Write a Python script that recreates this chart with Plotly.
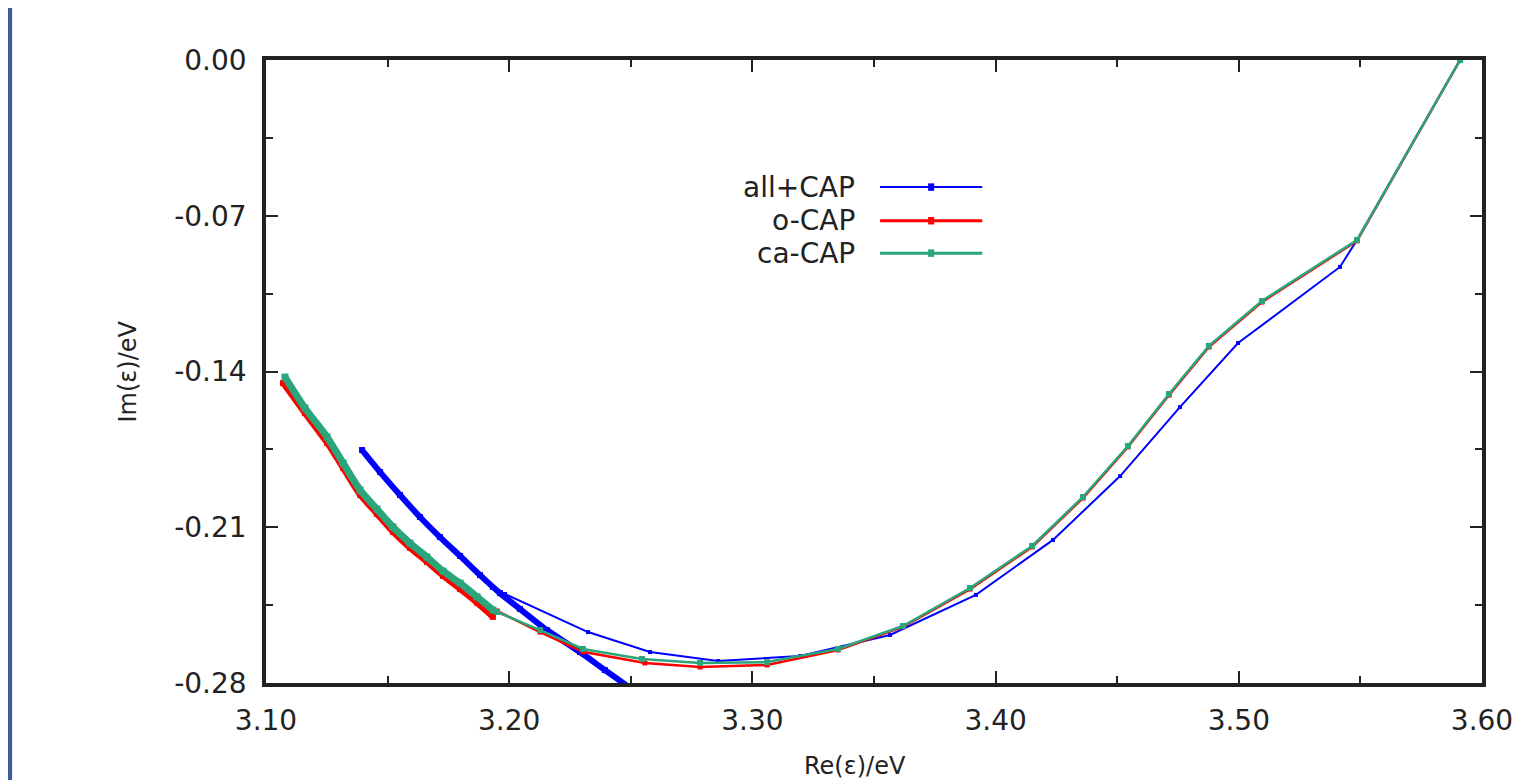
import plotly.graph_objects as go

# ---------------- data ----------------
series_names = ["all+CAP", "o-CAP", "ca-CAP"]

# all+CAP : densely sampled branch and sparse branch
blue_dense_x = [3.1395, 3.1469, 3.1551, 3.1633, 3.1715, 3.1798, 3.1880, 3.1962,
                3.2044, 3.2155, 3.2291, 3.2394, 3.2497]
blue_dense_y = [-0.1753, -0.1852, -0.1955, -0.2054, -0.2144, -0.2229, -0.2315, -0.2396,
                -0.2467, -0.2562, -0.2661, -0.2742, -0.2822]
blue_sparse_x = [3.1929, 3.1983, 3.2324, 3.2579, 3.2859, 3.3196, 3.3566, 3.3919,
                 3.4236, 3.4512, 3.4758, 3.4997, 3.5416, 3.5486, 3.5910]
blue_sparse_y = [-0.2373, -0.2400, -0.2571, -0.2661, -0.2701, -0.2679, -0.2584, -0.2404,
                 -0.2157, -0.1870, -0.1560, -0.1272, -0.0930, -0.0809, 0.0000]

# o-CAP
red_dense_x = [3.1070, 3.1160, 3.1251, 3.1317, 3.1387, 3.1456, 3.1522, 3.1592,
               3.1662, 3.1728, 3.1798, 3.1868, 3.1933]
red_dense_y = [-0.1452, -0.1587, -0.1721, -0.1834, -0.1955, -0.2040, -0.2121, -0.2193,
               -0.2256, -0.2319, -0.2378, -0.2440, -0.2503]
red_sparse_x = [3.1950, 3.2127, 3.2303, 3.2558, 3.2785, 3.3060, 3.3352, 3.3619,
                3.3895, 3.4150, 3.4359, 3.4544, 3.4713, 3.4877, 3.5095, 3.5486, 3.5910]
red_sparse_y = [-0.2476, -0.2571, -0.2660, -0.2710, -0.2728, -0.2719, -0.2652, -0.2548,
                -0.2378, -0.2189, -0.1969, -0.1739, -0.1506, -0.1290, -0.1088, -0.0813, 0.0000]

# ca-CAP
green_dense_x = [3.1078, 3.1160, 3.1251, 3.1317, 3.1387, 3.1456, 3.1522, 3.1592,
                 3.1662, 3.1728, 3.1798, 3.1868, 3.1933]
green_dense_y = [-0.1425, -0.1564, -0.1694, -0.1811, -0.1933, -0.2018, -0.2099, -0.2171,
                 -0.2234, -0.2297, -0.2351, -0.2413, -0.2472]
green_sparse_x = [3.1950, 3.2127, 3.2303, 3.2546, 3.2785, 3.3060, 3.3352, 3.3619,
                  3.3895, 3.4150, 3.4359, 3.4544, 3.4713, 3.4877, 3.5095, 3.5486, 3.5910]
green_sparse_y = [-0.2481, -0.2562, -0.2647, -0.2692, -0.2710, -0.2706, -0.2647, -0.2544,
                  -0.2373, -0.2184, -0.1964, -0.1735, -0.1501, -0.1285, -0.1083, -0.0809, 0.0000]

x_tickvals = [3.10, 3.20, 3.30, 3.40, 3.50, 3.60]
x_ticktext = ["3.10", "3.20", "3.30", "3.40", "3.50", "3.60"]
y_tickvals = [0.00, -0.07, -0.14, -0.21, -0.28]
y_ticktext = ["0.00", "-0.07", "-0.14", "-0.21", "-0.28"]
x_minorvals = [3.15, 3.25, 3.35, 3.45, 3.55]
y_minorvals = [-0.035, -0.105, -0.175, -0.245]

x_title = "Re(ε)/eV"
y_title = "Im(ε)/eV"

# ---------------- styles ----------------
BLUE = "#0000ff"
RED = "#ff0000"
GREEN = "#2ba57a"
FONT = "DejaVu Sans"
AXC = "#222222"

fig = go.Figure()

def add_series(xd, yd, xs, ys, color, name, dense_w, sparse_w, msize):
    fig.add_trace(go.Scatter(x=xd, y=yd, mode="lines+markers", name=name,
                             line=dict(color=color, width=dense_w, shape="spline", smoothing=0.6),
                             marker=dict(color=color, size=dense_w, symbol="square"),
                             showlegend=False, hoverinfo="x+y"))
    fig.add_trace(go.Scatter(x=xs, y=ys, mode="lines+markers", name=name,
                             line=dict(color=color, width=sparse_w),
                             marker=dict(color=color, size=msize, symbol="square"),
                             showlegend=False, hoverinfo="x+y"))

add_series(blue_dense_x, blue_dense_y, blue_sparse_x, blue_sparse_y, BLUE, series_names[0], 6, 2, 4)
add_series(red_dense_x, red_dense_y, red_sparse_x, red_sparse_y, RED, series_names[1], 6, 2.5, 5)
add_series(green_dense_x, green_dense_y, green_sparse_x, green_sparse_y, GREEN, series_names[2], 7, 2.5, 6)

# ---------------- manual gnuplot-style legend (text left of sample) ----------------
legend_colors = [BLUE, RED, GREEN]
legend_widths = [2, 3, 3]
legend_y = [0.796, 0.742, 0.690]
shapes = []
annotations = []
for name, col, w, ly in zip(series_names, legend_colors, legend_widths, legend_y):
    annotations.append(dict(xref="paper", yref="paper", x=0.486, y=ly, text=name,
                            showarrow=False, xanchor="right", yanchor="middle",
                            font=dict(family=FONT, size=28, color="#222222")))
    shapes.append(dict(type="line", xref="paper", yref="paper", x0=0.505, x1=0.589,
                       y0=ly, y1=ly, line=dict(color=col, width=w)))
    shapes.append(dict(type="rect", xref="paper", yref="paper",
                       x0=0.5445, x1=0.5495, y0=ly - 0.006, y1=ly + 0.006,
                       line=dict(width=0), fillcolor=col))

# slide border bar at far left
shapes.append(dict(type="rect", xref="paper", yref="paper", x0=-0.2122, x1=-0.2088,
                   y0=-0.25, y1=1.25, line=dict(width=0), fillcolor="#3a5b9c"))

annotations.append(dict(xref="paper", yref="paper", x=-0.1135, y=0.5, text=y_title,
                        textangle=-90, showarrow=False, xanchor="center", yanchor="middle",
                        font=dict(family=FONT, size=24, color="#222222")))
annotations.append(dict(xref="paper", yref="paper", x=0.484, y=-0.108, text=x_title,
                        showarrow=False, xanchor="center", yanchor="top",
                        font=dict(family=FONT, size=24, color="#222222")))

axis_common = dict(showgrid=False, zeroline=False, showline=True, linecolor=AXC,
                   linewidth=3.5, mirror="ticks", ticks="inside", ticklen=12,
                   tickwidth=2, tickcolor=AXC,
                   tickfont=dict(family=FONT, size=28, color="#222222"))

fig.update_layout(
    width=1530, height=780,
    margin=dict(l=258, r=56, t=52, b=105),
    paper_bgcolor="white", plot_bgcolor="white",
    shapes=shapes, annotations=annotations,
    showlegend=False,
    xaxis=dict(range=[3.10, 3.60], tickmode="array", tickvals=x_tickvals,
               ticktext=x_ticktext, ticklabelstandoff=10,
               minor=dict(ticks="inside", ticklen=7, tickwidth=2, tickcolor=AXC,
                          tickmode="array", tickvals=x_minorvals),
               **axis_common),
    yaxis=dict(range=[-0.28, 0.0], tickmode="array", tickvals=y_tickvals,
               ticktext=y_ticktext, ticklabelstandoff=10,
               minor=dict(ticks="inside", ticklen=7, tickwidth=2, tickcolor=AXC,
                          tickmode="array", tickvals=y_minorvals),
               **axis_common),
)

fig.write_html("out.html")
